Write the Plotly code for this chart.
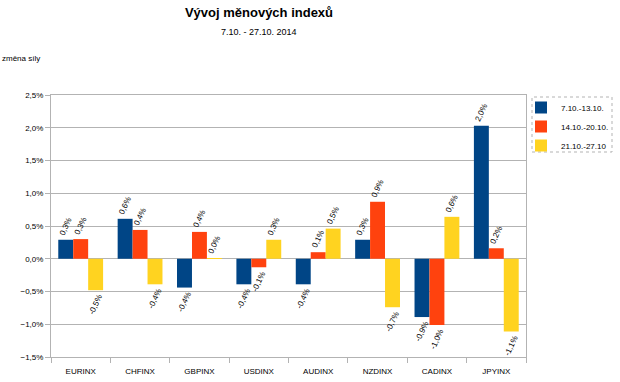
import plotly.graph_objects as go

categories = ["EURINX", "CHFINX", "GBPINX", "USDINX", "AUDINX", "NZDINX", "CADINX", "JPYINX"]
series_names = ["7.10.-13.10.", "14.10.-20.10.", "21.10.-27.10"]
week1 = [0.29, 0.61, -0.44, -0.39, -0.39, 0.29, -0.89, 2.03]
week2 = [0.30, 0.44, 0.41, -0.13, 0.10, 0.87, -1.01, 0.16]
week3 = [-0.48, -0.39, 0.01, 0.29, 0.46, -0.74, 0.64, -1.11]
colors = ["#004586", "#ff420e", "#ffd320"]
yticks = [-1.5, -1.0, -0.5, 0.0, 0.5, 1.0, 1.5, 2.0, 2.5]

FONT = "Liberation Sans, Arial, sans-serif"
fig = go.Figure()
for name, vals, col in zip(series_names, [week1, week2, week3], colors):
    fig.add_trace(go.Bar(
        x=categories, y=[v / 100 for v in vals], name=name,
        marker=dict(color=col, line=dict(width=0)),
        texttemplate="%{y:.1%}", textposition="outside", textangle=-65,
        constraintext="none", cliponaxis=False,
        textfont=dict(size=8, color="#000000", family=FONT),
    ))

W, H = 620, 382
L, R, T, B = 51, 94, 95, 25
PW, PH = W - L - R, H - T - B
fig.update_layout(
    width=W, height=H, separators=",.",
    margin=dict(l=L, r=R, t=T, b=B, autoexpand=False),
    paper_bgcolor="white", plot_bgcolor="white",
    font=dict(family=FONT, size=8, color="#000000"),
    barmode="group", bargap=0.245, bargroupgap=0,
    title=dict(text="<b>Vývoj měnových indexů</b>", x=259 / W, xanchor="center",
               y=1 - 12 / H, yanchor="middle", yref="container",
               font=dict(size=13, family=FONT)),
    showlegend=True,
    legend=dict(x=1 + (521 - 526) / PW, y=1 + 2 / PH, xanchor="left", yanchor="top",
                bgcolor="rgba(0,0,0,0)", borderwidth=0, font=dict(size=8),
                itemwidth=30, tracegroupgap=0),
    xaxis=dict(showgrid=False, ticks="outside", tickson="boundaries", ticklen=5,
               tickcolor="#b3b3b3", showline=True, linecolor="#b3b3b3", mirror=True,
               tickfont=dict(size=8), ticklabelstandoff=6),
    yaxis=dict(range=[-0.015, 0.025], tickvals=[v / 100 for v in yticks], tickformat=".1%",
               showgrid=True, gridcolor="#b3b3b3", gridwidth=1, zeroline=True, zerolinecolor="#b3b3b3",
               zerolinewidth=1,
               ticks="outside", ticklen=5, tickcolor="#b3b3b3", showline=True,
               linecolor="#b3b3b3", mirror=True, tickfont=dict(size=8)),
)
fig.add_annotation(text="7.10. - 27.10. 2014", xref="paper", yref="paper",
                   x=(259 - L) / PW, y=1 + (T - 32) / PH,
                   xanchor="center", yanchor="middle", showarrow=False,
                   font=dict(size=9, family=FONT))
fig.add_annotation(text="změna síly", xref="paper", yref="paper",
                   x=-L / PW, y=1 + (T - 58) / PH,
                   xanchor="left", yanchor="middle", showarrow=False,
                   font=dict(size=8, family=FONT))
fig.add_shape(type="rect", xref="paper", yref="paper",
              x0=(532 - L) / PW, x1=(612 - L) / PW,
              y0=1 - (152 - T) / PH, y1=1 - (97 - T) / PH,
              line=dict(color="#b3b3b3", width=1, dash="dot"))
fig.write_html("out.html", config={"displayModeBar": False},
               post_script="document.body.style.margin='0';")
